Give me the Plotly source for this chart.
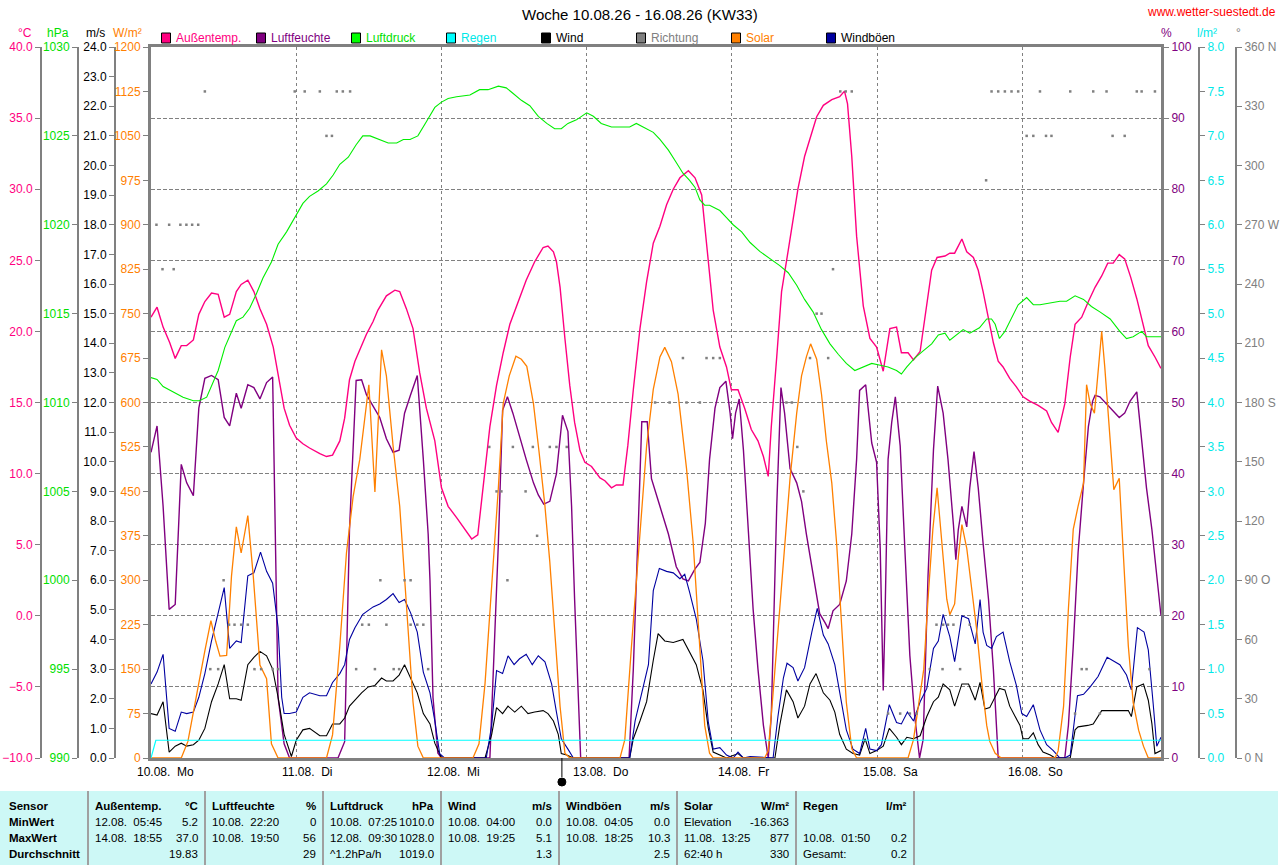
import plotly.graph_objects as go

# Zeitachse: Stunden ab Mo 10.08. 00:00
day_h = [0, 24, 48, 72, 96, 120, 144]
day_labels = ["10.08.\u00a0 Mo", "11.08.\u00a0 Di", "12.08.\u00a0 Mi", "13.08.\u00a0 Do",
              "14.08.\u00a0 Fr", "15.08.\u00a0 Sa", "16.08.\u00a0 So"]
x_end = 166.9

# Aussentemperatur (°C)
temp_h = [0, 1, 2, 3.1, 4, 5, 5.9, 7, 7.9, 8.9, 10, 11.1, 12.1, 13, 14.1, 14.9, 16, 17, 18, 19.1, 20.2, 21, 22, 22.9,
          24, 25.1, 26.2, 27.9, 29, 30, 31.2, 32, 32.8, 33.7, 34.5, 35.6, 36.7, 37.5, 38.9, 40.3, 41.1, 42.2, 43.3, 44.4, 45.5, 46.1, 46.9,
          48, 49.1, 50.5, 51.6, 53, 54, 54.9, 56, 57.1, 58.2, 59.3, 60.7, 62, 63.4, 64.8, 65.6, 66.5, 67, 67.6, 68.4, 69.2, 70, 70.9,
          71.7, 72.8, 74.2, 75, 76.1, 76.9, 78, 78.8, 79.7, 80.8, 81.9, 83, 84.1, 85.2, 86.3, 87.4, 88.8, 89.9, 91, 91.8, 92.4, 92.9, 94, 95.1,
          95.9, 97, 98.1, 99.2, 100.3, 101.2, 102, 102.5, 103.4, 104.2, 105.3, 106.1, 106.9, 108, 109.2, 110, 111.1, 112.5, 113.8, 114.6, 115.1, 115.8, 116.6, 117.7, 118.8,
          119.9, 121, 121.6, 122.1, 123.2, 124, 125.1, 126, 127.1, 128.2, 129, 129.9, 131.2, 132, 132.8, 134, 134.8, 135.9, 136.7, 137.5, 138.4, 139.2, 140, 140.8, 141.9, 143,
          144.1, 145.2, 146.6, 148, 148.8, 149.9, 151, 151.9, 152.7, 153.8, 154.9, 156, 157.1, 158.1, 159, 160, 160.9, 161.9, 162.9, 163.9, 164.8, 165.9, 166.9]
temp_c = [21.0, 21.7, 20.3, 19.2, 18.1, 19.0, 19.0, 19.4, 21.2, 22.1, 22.7, 22.6, 21.0, 21.2, 22.8, 23.3, 23.6, 22.8, 21.6, 20.5, 18.9, 16.9, 14.6, 13.4,
          12.5, 12.1, 11.8, 11.4, 11.2, 11.3, 12.3, 13.9, 16.6, 17.9, 18.7, 19.8, 20.7, 21.5, 22.5, 22.9, 22.8, 21.6, 20.2, 17.1, 14.6, 13.6, 12.3,
          9.0, 7.7, 6.9, 6.2, 5.4, 5.7, 9.0, 13.3, 16.2, 18.5, 20.5, 22.1, 23.6, 24.9, 25.9, 26.0, 25.6, 24.9, 23.1, 19.5, 16.2, 13.6, 11.6,
          10.8, 10.5, 9.7, 9.5, 9.0, 9.2, 9.2, 12.0, 15.9, 20.2, 23.5, 26.2, 27.4, 28.9, 30.0, 30.8, 31.3, 30.8, 29.6, 26.2, 23.5, 21.5, 18.9, 17.5,
          15.9, 15.9, 14.6, 13.1, 12.3, 11.2, 9.8, 13.3, 18.2, 22.8, 25.7, 27.9, 30.0, 32.3, 33.9, 35.1, 35.9, 36.3, 36.5, 36.9, 36.0, 32.3, 26.7, 21.8, 19.5,
          18.9, 17.2, 18.7, 20.2, 20.3, 18.5, 18.5, 18.0, 18.6, 22.1, 24.3, 25.2, 25.3, 25.5, 25.5, 26.5, 25.6, 25.2, 24.3, 22.8, 20.8, 19.2, 17.9, 17.5, 16.7, 16.1,
          15.4, 15.1, 14.8, 14.4, 13.6, 12.9, 14.9, 18.2, 20.5, 21.0, 22.1, 23.1, 23.9, 24.8, 24.8, 25.4, 25.1, 23.8, 22.3, 20.5, 19.0, 18.2, 17.4]

# Luftfeuchte (%)
hum_h = [0, 1, 2, 3, 4, 5, 5.9, 7, 7.9, 8.9, 10, 11.1, 12.1, 13, 14.1, 14.9, 16, 17, 18, 19.1, 20.1, 21, 22, 22.9,
         30.9, 32, 32.8, 33.9, 34.8, 35.6, 36.7, 37.8, 38.9, 40, 41, 41.9, 42.9, 44, 45, 45.8, 46.1, 46.6, 47.4, 48,
         56, 56.5, 57.4, 58.1, 58.9, 59.8, 60.9, 62, 63.2, 64, 64.9, 65.9, 67, 68, 68.9, 69.5, 70, 70.6, 71,
         79, 79.7, 80.5, 81.1, 82, 82.7, 84.1, 85.5, 86.8, 87.9, 88.8, 89.9, 90.7, 91.6, 92.3, 93.2, 94, 95,
         95.7, 96.1, 96.6, 97.2, 97.9, 98.7, 99.5, 100.3, 101.2, 102, 102.5, 103.4, 104.1, 104.7, 105.6, 106.7, 107.5, 108.3, 109.4, 110.5, 111.4, 111.9, 112.7, 113.8, 114.9, 115.8, 116.6, 117.1, 118.1, 119.1,
         119.9, 120.5, 121, 121.3, 121.8, 122.4, 123, 123.8, 124.6, 125.4, 126.2, 127, 127.6, 128.4, 129.3, 130, 130.9, 131.7, 132.6, 133, 133.4, 134, 134.8, 135.3, 136, 136.7, 137.5, 138.4, 139.2, 139.7, 140,
         151, 151.6, 152.4, 153.2, 154.1, 154.9, 155.6, 156, 156.8, 157.9, 159, 160, 160.9, 161.8, 162.9, 163.7, 164.5, 165.4, 166.2, 166.9]
hum_p = [43.0, 46.7, 35.4, 20.9, 21.6, 41.3, 38.7, 36.9, 49.2, 53.4, 53.8, 53.2, 47.9, 46.7, 51.3, 49.2, 52.5, 52.1, 50.5, 52.8, 53.6, 8.5, 2.0, 0,
         0, 2.3, 32.1, 53.1, 53.2, 51.1, 49.5, 47.9, 44.9, 43.0, 43.3, 48.5, 51.1, 53.8, 42.0, 31.5, 25.0, 8.5, 0.7, 0,
         0, 10.5, 30.2, 48.9, 50.8, 48.5, 45.2, 42.0, 38.7, 37.0, 35.7, 36.1, 40.0, 48.2, 45.9, 35.4, 22.3, 7.2, 0,
         0, 12.5, 32.1, 47.3, 47.3, 39.3, 35.4, 31.5, 26.9, 25.2, 24.9, 26.6, 27.5, 33.0, 42.0, 49.2, 52.1, 53.0,
         48.5, 44.9, 48.5, 50.5, 43.3, 32.1, 20.9, 12.5, 4.6, 0, 5.9, 35.4, 52.1, 48.5, 40.7, 38.7, 36.1, 31.5, 25.6, 20.3, 19.0, 18.2, 20.7, 21.6, 24.9, 31.5, 42.0, 51.7, 52.5, 44.3,
         41.6, 29.5, 9.5, 20.0, 42.0, 47.2, 50.8, 43.9, 28.9, 14.4, 5.9, 0, 2.6, 25.6, 43.3, 52.3, 48.5, 42.0, 32.8, 27.9, 32.1, 35.4, 32.5, 38.0, 43.1, 38.0, 30.2, 22.3, 12.5, 4.6, 0,
         0, 4.6, 15.7, 28.9, 38.7, 46.6, 50.2, 51.0, 50.8, 49.8, 48.9, 47.9, 48.5, 50.2, 51.5, 44.6, 38.0, 32.1, 25.6, 20.0]

# Luftdruck (hPa)
press_h = [0, 1, 2, 3.1, 4.2, 5.3, 7, 8, 9.2, 10, 11.1, 12.2, 13.3, 14.1, 15.2, 16.3, 17.4, 18.5, 19.9, 21, 22.4, 23.8,
           25.1, 26.2, 27.6, 29, 30.1, 31.2, 32.6, 33.9, 35, 36.2, 37.8, 39.2, 40.6, 41.7, 42.8, 44.1, 45.5, 46.9, 48, 49.1, 50.5, 52.7,
           54.3, 55.7, 57.4, 58.7, 59.8, 61.2, 62.6, 64, 65.4, 66.7, 67.8, 68.9, 70.3, 72, 73.1, 74.4, 76.1, 77.5, 79.1, 80.2, 81.3, 83,
           84.1, 85.5, 86.8, 87.9, 89, 89.9, 90.7, 91.5, 92.3,
           94, 95.1, 96.2, 97.6, 99, 100.6, 102.3, 103.9, 105.3, 106.7, 108, 109.4, 110.8, 112.2, 113.6, 114.9, 116.3, 117.7, 119.1, 120.5,
           121.8, 123.2, 124, 124.9, 126.2, 127.6, 129, 130.1, 131.2, 132, 133.1, 134.2, 135.3, 136.9, 138.1, 138.9, 139.5, 140.2, 141.1,
           142.2, 143.3, 144.7, 145.8, 146.9, 148.6, 150.2, 151.3, 152.7, 154.1, 155.4, 156.8, 158.5, 160.1, 161.2, 162.3, 163.7, 164.5, 165.6, 166.9]
press_hpa = [1011.4, 1011.3, 1010.9, 1010.7, 1010.5, 1010.3, 1010.1, 1010.1, 1010.3, 1010.9, 1011.8, 1013.1, 1014.0, 1014.6, 1014.8, 1015.3, 1016.1, 1017.0, 1017.9, 1018.9, 1019.6, 1020.4,
             1021.2, 1021.6, 1021.9, 1022.3, 1022.8, 1023.4, 1023.8, 1024.5, 1025.0, 1025.0, 1024.8, 1024.6, 1024.6, 1024.8, 1024.8, 1025.0, 1025.8, 1026.6, 1026.9, 1027.1, 1027.2, 1027.3,
             1027.6, 1027.6, 1027.8, 1027.7, 1027.4, 1027.0, 1026.7, 1026.1, 1025.7, 1025.4, 1025.4, 1025.7, 1025.9, 1026.3, 1026.1, 1025.7, 1025.5, 1025.5, 1025.5, 1025.7, 1025.5, 1025.2,
             1024.8, 1024.2, 1023.5, 1022.9, 1022.5, 1022.1, 1021.4, 1021.1, 1021.1,
             1020.8, 1020.4, 1020.0, 1019.6, 1019.0, 1018.5, 1018.1, 1017.7, 1017.3, 1016.6, 1015.8, 1015.1, 1014.1, 1013.3, 1012.7, 1012.2, 1011.8, 1012.0, 1012.2, 1012.1,
             1012.0, 1011.8, 1011.6, 1012.0, 1012.5, 1012.9, 1013.3, 1013.8, 1013.9, 1013.5, 1013.8, 1014.1, 1013.9, 1014.2, 1014.7, 1014.7, 1014.4, 1013.6, 1014.0,
             1014.8, 1015.5, 1015.9, 1015.5, 1015.5, 1015.6, 1015.7, 1015.7, 1016.0, 1015.8, 1015.4, 1015.1, 1014.7, 1014.0, 1013.6, 1013.7, 1014.0, 1013.7, 1013.7, 1013.7]

# Regen (l/m², Summe)
rain_h = [0, 0.8, x_end]
rain_l = [0, 0.2, 0.2]

# Wind (m/s)
wind_h = [0, 1, 2, 3, 4, 5, 5.9, 7, 7.9, 8.9, 10, 11.1, 12.1, 13, 14.1, 14.9, 16, 17, 18, 19.1, 20.1, 21, 22, 23.2,
          24, 25.1, 26.2, 27.9, 29, 30, 31.2, 32, 32.8, 33.7, 34.8, 35.9, 37, 38.1, 38.9, 40, 41, 41.9, 42.9, 44, 45, 46.1, 46.9, 48,
          55.2, 56.3, 57.1, 58.1, 59, 60.1, 61.2, 62.3, 63.4, 64.8, 65.6, 66.5, 67.3, 67.8, 68.7, 69.8,
          79.1, 79.7, 80.8, 81.9, 83, 83.8, 84.9, 86.3, 87.9, 89, 90.1, 91.2, 92.1, 92.9, 94, 95.1,
          97, 97.9, 103.1, 103.9, 105, 106.1, 106.9, 108, 108.9, 109.9, 111.1, 112.2, 113, 113.8, 114.9, 116, 117.1, 118, 118.8, 119.9,
          121, 122, 123.2, 124, 124.9, 126, 127.1, 128.2, 129.3, 130.1, 130.9, 132, 132.8, 134, 135.1, 136.2, 137, 137.8, 138.6, 139.2,
          140.2, 141.1, 141.9, 142.8, 143.6, 144.1, 145, 145.8, 146.6, 147.4, 148.6, 149.4,
          151.9, 152.7, 153.2, 154.8, 155.7, 157.1, 158.5, 161.5, 162, 162.9, 164, 164.8, 165.4, 165.9, 166.9]
wind_ms = [1.5, 1.45, 1.9, 0.2, 0.4, 0.5, 0.4, 0.45, 0.6, 1.0, 1.9, 2.5, 3.15, 2.0, 2.0, 1.95, 3.15, 3.4, 3.6, 3.45, 3.0, 2.05, 0.8, 0.05,
           0.6, 0.95, 1.0, 0.75, 0.75, 1.15, 1.15, 1.35, 1.75, 1.95, 2.2, 2.4, 2.45, 2.7, 2.6, 2.6, 2.8, 3.15, 2.7, 2.2, 1.5, 1.15, 0.5, 0,
           0, 0.8, 1.7, 1.5, 1.75, 1.55, 1.75, 1.5, 1.55, 1.6, 1.5, 1.25, 0.8, 0.15, 0.1, 0,
           0, 0.65, 1.25, 1.9, 3.3, 4.2, 3.95, 3.9, 4.0, 3.6, 3.15, 2.3, 1.0, 0.2, 0.1, 0,
           0.15, 0, 0, 1.1, 2.3, 1.9, 1.35, 1.75, 2.5, 2.85, 2.2, 1.95, 1.55, 0.8, 0.3, 0.15, 0.1, 0.65, 0.15, 0.25,
           0.4, 1.0, 0.7, 0.45, 0.7, 0.65, 0.75, 1.4, 1.9, 2.05, 2.5, 2.3, 1.75, 2.5, 2.5, 1.95, 2.55, 1.65, 1.7, 1.95,
           2.35, 2.3, 1.75, 1.4, 1.1, 0.65, 0.65, 0.85, 0.45, 0.2, 0.1, 0,
           0, 0.95, 1.05, 1.1, 1.15, 1.6, 1.6, 1.6, 1.4, 2.4, 2.5, 1.95, 1.15, 0.15, 0.25]

# Windböen (m/s)
gust_h = [0, 1, 2, 3, 4, 5, 5.9, 7, 7.9, 8.9, 10, 11.1, 12.1, 13, 14.1, 14.9, 16, 17, 18.1, 19.1, 20.1, 21, 21.6, 22, 22.9,
          24, 25.1, 26.2, 27.9, 29, 30, 31.2, 32, 32.8, 33.7, 35, 36.7, 37.8, 38.9, 40, 41, 41.9, 42.9, 44, 45, 46.1, 46.9, 47.7, 48.5,
          55.4, 56.3, 57.1, 58.1, 59, 60, 60.9, 62, 63, 64, 65.1, 66.2, 67, 67.8, 68.9, 69.8,
          79.1, 80, 81.1, 82.2, 83, 84, 85.2, 86.3, 87.4, 88.2, 89, 90.1, 91.2, 92.1, 92.9, 94, 95.1, 96.2, 97, 97.9, 99, 102.8,
          103.6, 104.5, 105.1, 106.1, 106.9, 108, 109.2, 110.1, 111.1, 111.9, 113, 113.8, 114.9, 116, 117.1, 118.1, 118.8, 119.9, 120.7,
          122, 123.2, 124, 125, 126, 127.1, 128.2, 129.3, 130.1, 130.9, 132, 132.8, 134, 135.1, 136.2, 137, 137.5, 138.1, 138.9, 139.7,
          140.8, 141.9, 143, 143.9, 144.7, 145.8, 146.9, 148, 149.1, 150.2, 151,
          151.9, 152.7, 153.1, 154.1, 155.2, 156.5, 158, 160.1, 161.2, 162, 163, 164.1, 164.8, 165.6, 166.2, 166.9]
gust_ms = [2.5, 2.9, 3.5, 1.0, 0.9, 1.55, 1.5, 1.55, 2.05, 2.85, 3.95, 4.9, 5.75, 3.7, 3.95, 3.9, 6.15, 6.25, 6.95, 6.3, 5.9, 4.4, 2.05, 1.5, 1.5,
           1.55, 2.05, 2.2, 2.1, 2.1, 2.55, 2.85, 3.15, 4.0, 4.4, 4.85, 5.1, 5.2, 5.35, 5.55, 5.25, 5.35, 4.9, 4.25, 2.9, 2.2, 1.25, 0.15, 0,
           0, 1.1, 2.95, 2.85, 3.45, 3.15, 3.35, 3.5, 3.15, 3.45, 3.25, 2.5, 1.55, 0.65, 0.3, 0,
           0, 1.25, 2.2, 3.15, 5.65, 6.4, 6.3, 6.25, 6.05, 6.2, 5.6, 4.7, 3.3, 1.2, 0.3, 0.35, 0.1, 0, 0.2, 0, 0.05, 0,
           1.4, 2.7, 3.2, 3.05, 2.6, 3.05, 4.25, 5.05, 4.15, 3.85, 3.15, 2.2, 0.95, 0.3, 0.15, 1.0, 0.3, 0.25, 0.45,
           1.8, 1.2, 1.15, 1.55, 1.25, 1.9, 2.35, 3.7, 3.95, 4.85, 4.1, 3.25, 4.8, 4.7, 3.85, 5.35, 4.25, 3.8, 3.7, 4.1,
           4.25, 3.25, 2.45, 1.5, 1.4, 1.8, 0.95, 0.45, 0.25, 0, 0,
           0.1, 1.45, 2.1, 2.15, 2.4, 2.75, 3.4, 3.15, 2.8, 2.3, 4.4, 4.25, 3.65, 1.85, 0.4, 0.7]

# Solar (W/m²)
solar_h = [0, 5, 6.1, 7, 7.9, 8.9, 9.9, 10.7, 11.4, 12.5, 13.3, 14.1, 14.9, 16, 16.9, 18, 19.1, 19.9, 21,
           29, 30, 31.2, 32.3, 33.4, 34.5, 36, 37, 37.5, 38.1, 38.9, 40, 41.1, 42.2, 43.3, 44.1, 45,
           53.2, 54.2, 55.2, 56.3, 57.4, 58.2, 59.2, 60.3, 61.2, 62.1, 63.2, 64.1, 65.1, 65.9, 66.7, 67.6, 68.4, 69.2,
           77.5, 78.3, 79.4, 80.8, 81.9, 83, 84.1, 84.9, 86, 87.1, 88.5, 89.6, 90.7, 91.5, 92.3, 92.9,
           101.4, 102, 102.8, 103.9, 104.7, 105.6, 106.7, 107.5, 108.3, 109, 110, 110.8, 111.6, 112.5, 113.3, 114.1, 114.9, 115.8, 116.6,
           125.1, 126, 126.8, 127.7, 128.4, 129.2, 129.9, 130.6, 131.5, 132, 132.8, 133.4, 134, 134.8, 135.6, 136.4, 137.3, 138.1, 138.6, 139.5, 140.5,
           149.4, 149.9, 150.8, 151.6, 152.4, 153.2, 154.1, 154.6, 155.2, 155.9, 156.4, 157.1, 157.6, 158.4, 159.1, 160, 160.7, 161.5, 162.3, 163.2, 164, 164.8, 166.9]
solar_w = [0, 0, 28, 79, 126, 181, 232, 197, 172, 173, 307, 390, 346, 409, 307, 157, 134, 24, 0,
           0, 39, 189, 346, 441, 504, 630, 449, 551, 689, 645, 527, 425, 260, 94, 20, 0,
           0, 24, 126, 291, 456, 598, 645, 678, 673, 661, 598, 519, 425, 331, 220, 87, 8, 0,
           0, 31, 189, 386, 527, 622, 677, 693, 669, 614, 488, 362, 175, 55, 8, 0,
           0, 12, 110, 252, 370, 472, 582, 645, 677, 699, 673, 614, 535, 464, 362, 228, 94, 16, 0,
           0, 31, 87, 150, 268, 386, 456, 370, 268, 242, 260, 338, 394, 354, 283, 220, 126, 55, 28, 8, 0,
           0, 12, 87, 252, 386, 425, 464, 630, 598, 582, 645, 720, 661, 543, 453, 472, 346, 189, 94, 47, 20, 0, 0]

# Windrichtung (°)
dir_h = [8.9, 23.75, 25.4, 27.9, 30.7, 31.7, 32.9, 113.9, 114.8, 115.8, 138.9, 140.0, 141.1, 142.2, 143.3, 146.9, 151.9, 155.7, 157.9, 162.9, 163.7, 165.9,
         29.0, 29.9, 144.7, 145.8, 147.9, 148.8, 158.9, 160.9,
         138.0,
         0.9, 3.0, 4.85, 5.85, 6.8, 7.8,
         1.9, 3.75, 112.7,
         110.0, 110.8,
         87.9, 91.8, 92.9, 94.0, 108.9, 111.9,
         83.3, 85.7, 88.5, 90.7, 105.0, 105.9,
         55.9, 59.8, 63.1, 65.9, 67.0, 68.7, 106.8,
         57.1, 57.9, 61.9, 107.8,
         63.8,
         12.0, 37.9, 41.9, 42.9, 58.9,
         12.9, 13.8, 14.9, 16.0, 34.9, 36.0, 38.9, 42.9, 44.0, 45.0, 129.8, 130.9, 131.7, 132.6, 135.3,
         9.8, 11.1, 17.1, 18.2, 20.1, 21.0, 33.9, 37.0, 40.1, 41.0, 45.8, 128.7, 130.8, 133.7, 153.8, 154.6, 165.0,
         121.8, 123.8, 125.4, 126.5, 152.7, 156.8]
dir_deg = [337.5] * 22 + [315] * 8 + [292.5] + [270] * 6 + [247.5] * 3 + [225] * 2 + [202.5] * 6 + \
          [180] * 6 + [157.5] * 7 + [135] * 4 + [112.5] + [90] * 5 + [67.5] * 15 + [45] * 17 + [22.5] * 6

moon_h = 67.9

# Statistik-Tabelle
stat_rows = ["Sensor", "MinWert", "MaxWert", "Durchschnitt"]
stat_heads = [("Außentemp.", "°C"), ("Luftfeuchte", "%"), ("Luftdruck", "hPa"), ("Wind", "m/s"),
              ("Windböen", "m/s"), ("Solar", "W/m²"), ("Regen", "l/m²")]
stat_left = [["12.08.  05:45", "14.08.  18:55", ""],
             ["10.08.  22:20", "10.08.  19:50", ""],
             ["10.08.  07:25", "12.08.  09:30", "^1.2hPa/h"],
             ["10.08.  04:00", "10.08.  19:25", ""],
             ["10.08.  04:05", "10.08.  18:25", ""],
             ["Elevation", "11.08.  13:25", "62:40 h"],
             ["", "10.08.  01:50", "Gesamt:"]]
stat_right = [["5.2", "37.0", "19.83"],
              ["0", "56", "29"],
              ["1010.0", "1028.0", "1019.0"],
              ["0.0", "5.1", "1.3"],
              ["0.0", "10.3", "2.5"],
              ["-16.363", "877", "330"],
              ["", "0.2", "0.2"]]

legend_names = ["Außentemp.", "Luftfeuchte", "Luftdruck", "Regen", "Wind", "Richtung", "Solar", "Windböen"]
legend_box = ["#FF0080", "#800080", "#00FF00", "#00FFFF", "#000000", "#808080", "#FF8000", "#0000A0"]
legend_text = ["#FF0080", "#800080", "#00E000", "#00E8E8", "#000000", "#808080", "#FF8000", "#000000"]

FONT = "Liberation Sans, Arial, sans-serif"
FS = 12
TFS = 11.5
GRAY = "#808080"
W, H = 1280, 865
TOP, BOT = 47, 758


def px(x):
    return x / W


def py(y):
    return (BOT - y) / (BOT - TOP)


fig = go.Figure()
fig.add_trace(go.Scatter(x=temp_h, y=temp_c, yaxis="y2", mode="lines", line=dict(color="#FF0080", width=1.4)))
fig.add_trace(go.Scatter(x=hum_h, y=hum_p, yaxis="y", mode="lines", line=dict(color="#800080", width=1.4)))
fig.add_trace(go.Scatter(x=press_h, y=press_hpa, yaxis="y3", mode="lines", line=dict(color="#00EE00", width=1.1)))
fig.add_trace(go.Scatter(x=rain_h, y=rain_l, yaxis="y6", mode="lines", line=dict(color="#00FFFF", width=1.2)))
fig.add_trace(go.Scatter(x=wind_h, y=wind_ms, yaxis="y4", mode="lines", line=dict(color="#000000", width=1.1)))
fig.add_trace(go.Scatter(x=dir_h, y=dir_deg, yaxis="y7", mode="markers",
                         marker=dict(symbol="square", size=2.5, color=GRAY, line_width=0)))
fig.add_trace(go.Scatter(x=solar_h, y=solar_w, yaxis="y5", mode="lines", line=dict(color="#FF8000", width=1.3)))
fig.add_trace(go.Scatter(x=gust_h, y=gust_ms, yaxis="y4", mode="lines", line=dict(color="#0000A0", width=1.1)))


def side_axis(rng, color, side, pos=None, dtick=None, fmt=None, lw=2, **kw):
    ax = dict(range=rng, side=side, overlaying="y", showgrid=False, zeroline=False,
              showline=True, linecolor=GRAY, linewidth=lw, ticks="outside", ticklen=5,
              tickcolor=GRAY, tickwidth=1, fixedrange=True,
              tickfont=dict(family=FONT, size=FS, color=color))
    if pos is None:
        ax["anchor"] = "x"
    else:
        ax["anchor"] = "free"
        ax["position"] = pos
    if dtick is not None:
        ax["dtick"] = dtick
        ax["tick0"] = rng[0]
    if fmt:
        ax["tickformat"] = fmt
    ax.update(kw)
    return ax


yaxis = dict(range=[0, 100], dtick=10, side="right", anchor="x", showgrid=True, gridcolor=GRAY,
             griddash="4px,2px", gridwidth=1, zeroline=False, showline=True, linecolor=GRAY, linewidth=3,
             ticks="outside", ticklen=5, tickcolor=GRAY, tickfont=dict(family=FONT, size=FS, color="#800080"))

fig.update_layout(
    width=W, height=H, autosize=False,
    margin=dict(l=0, r=0, t=TOP, b=H - BOT),
    paper_bgcolor="white", plot_bgcolor="white",
    showlegend=False,
    xaxis=dict(domain=[px(151), px(1161)], range=[0, x_end], showgrid=True, gridcolor=GRAY,
               griddash="3px,3px", gridwidth=1, tick0=0, dtick=24, showticklabels=False, ticks="",
               showline=True, linecolor=GRAY, linewidth=3, mirror=True, zeroline=False),
    yaxis=yaxis,
    yaxis2=side_axis([-10, 40], "#FF0080", "left", px(41), 5, ".1f"),
    yaxis3=side_axis([990, 1030], "#00E000", "left", px(78), 5, "d"),
    yaxis4=side_axis([0, 24], "#000000", "left", px(115), 1, ".1f"),
    yaxis5=side_axis([0, 1200], "#FF8000", "left", None, 75, "d", lw=3),
    yaxis6=side_axis([0, 8], "#00E8E8", "right", px(1199), 0.5, ".1f"),
    yaxis7=side_axis([0, 360], GRAY, "right", px(1236),
                     tickvals=list(range(0, 361, 30)),
                     ticktext=["0 N", "30", "60", "90 O", "120", "150", "180 S", "210", "240",
                               "270 W", "300", "330", "360 N"]),
)

ann = []
shapes = []


def text(x, y, s, color="black", size=FS, anchor="left", bold=False):
    ann.append(dict(x=px(x), y=py(y), xref="paper", yref="paper",
                    text="<b>%s</b>" % s if bold else s, showarrow=False,
                    xanchor=anchor, yanchor="middle", borderpad=0,
                    font=dict(family=FONT, size=size, color=color)))


# Titel
text(640, 15, "Woche 10.08.26 - 16.08.26 (KW33)", size=15, anchor="center")
text(1277, 12, "www.wetter-suestedt.de", color="#FF0000", anchor="right")

# Achsentitel
for x, s, c in [(25, "°C", "#FF0080"), (58, "hPa", "#00E000"), (95, "m/s", "#000000"),
                (127, "W/m²", "#FF8000"), (1166, "%", "#800080"), (1207, "l/m²", "#00E8E8"),
                (1238, "°", GRAY)]:
    text(x, 33, s, color=c, anchor="center")

# Legende
for i, name in enumerate(legend_names):
    bx = 161.5 + 95 * i
    shapes.append(dict(type="rect", xref="paper", yref="paper", x0=px(bx), x1=px(bx + 9),
                       y0=py(43), y1=py(33), fillcolor=legend_box[i], line=dict(color="black", width=1)))
    text(bx + 13, 38, name, color=legend_text[i])

# Tagesbeschriftung
for h, lab in zip(day_h, day_labels):
    ann.append(dict(x=h, y=py(772), xref="x", yref="paper", text=lab, showarrow=False,
                    xanchor="left", yanchor="middle", xshift=-16,
                    font=dict(family=FONT, size=FS, color="black")))

# Mondsymbol unter der Achse
shapes.append(dict(type="line", xref="x", yref="paper", x0=moon_h, x1=moon_h, y0=py(758), y1=py(777),
                   line=dict(color="black", width=1)))
shapes.append(dict(type="circle", xref="x", yref="paper", xsizemode="pixel", ysizemode="pixel",
                   xanchor=moon_h, yanchor=py(782), x0=-4, x1=4, y0=-4, y1=4,
                   fillcolor="black", line=dict(color="black", width=1)))

# Tabelle
shapes.append(dict(type="rect", xref="paper", yref="paper", x0=0, x1=px(1278), y0=py(865), y1=py(791),
                   fillcolor="#CDF8F6", line_width=0, layer="below"))
seps = [88, 205, 323, 441, 559, 677, 796, 914]
for sx in seps:
    shapes.append(dict(type="line", xref="paper", yref="paper", x0=px(sx), x1=px(sx),
                       y0=py(865), y1=py(791), line=dict(color="#A0A0A0", width=2)))
row_y = [806, 822, 838, 854]
for r, lab in enumerate(stat_rows):
    text(8, row_y[r], lab, size=TFS, bold=True)
for c, (head, unit) in enumerate(stat_heads):
    x0, x1 = seps[c] + 6, seps[c + 1] - 6
    text(x0, row_y[0], head, size=TFS, bold=True)
    text(x1, row_y[0], unit, size=TFS, bold=True, anchor="right")
    for r in range(3):
        if stat_left[c][r]:
            text(x0, row_y[r + 1], stat_left[c][r].replace("  ", "\u00a0 "), size=TFS)
        if stat_right[c][r]:
            text(x1, row_y[r + 1], stat_right[c][r], size=TFS, anchor="right")

fig.update_layout(annotations=ann, shapes=shapes)

# Browser-Standardrand des body entfernen, damit die Grafik bei 0,0 beginnt
fig.write_html("out.html", config={"displayModeBar": False},
               post_script="document.body.style.margin='0px';")
